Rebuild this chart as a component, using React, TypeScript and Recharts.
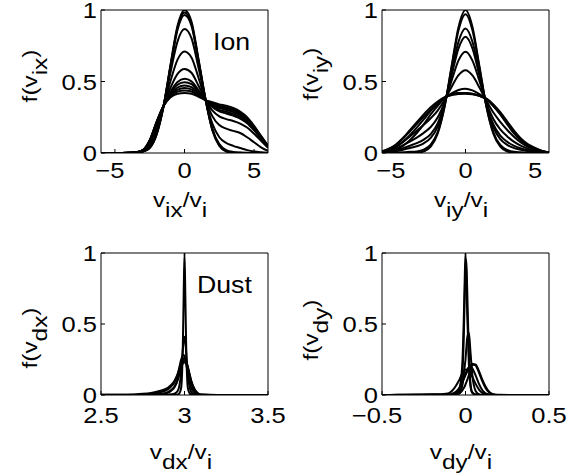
import React from "react"
import { LineChart, Line, XAxis, YAxis } from "recharts"

// ion velocity grids (v / v_i)
const ionGrid = [-6, -5.5, -5, -4.5, -4, -3.5, -3, -2.5, -2, -1.5, -1, -0.5, 0, 0.5, 1, 1.5, 2, 2.5, 3, 3.5, 4, 4.5, 5, 5.5, 6]

const ionXCurves = [
	[0, 0, 0, 0, 0, 0, 0.01, 0.035, 0.13, 0.33, 0.62, 0.89, 1.0, 0.92, 0.66, 0.38, 0.16, 0.05, 0.01, 0, 0, 0, 0, 0, 0],
	[0, 0, 0, 0, 0, 0, 0.01, 0.037, 0.133, 0.33, 0.613, 0.876, 0.983, 0.905, 0.652, 0.38, 0.163, 0.055, 0.015, 0.004, 0.001, 0, 0, 0, 0],
	[0, 0, 0, 0, 0, 0, 0.011, 0.038, 0.135, 0.33, 0.606, 0.862, 0.965, 0.89, 0.644, 0.379, 0.17, 0.062, 0.02, 0.007, 0.003, 0.001, 0, 0, 0],
	[0, 0, 0, 0, 0, 0.001, 0.012, 0.048, 0.151, 0.33, 0.567, 0.781, 0.867, 0.804, 0.599, 0.378, 0.205, 0.11, 0.07, 0.05, 0.035, 0.02, 0.01, 0.005, 0.002],
	[0, 0, 0, 0, 0, 0.003, 0.015, 0.063, 0.175, 0.33, 0.505, 0.653, 0.71, 0.668, 0.528, 0.375, 0.258, 0.195, 0.17, 0.155, 0.14, 0.11, 0.075, 0.04, 0.015],
	[0, 0, 0, 0, 0.001, 0.004, 0.017, 0.074, 0.194, 0.33, 0.457, 0.553, 0.588, 0.561, 0.472, 0.373, 0.298, 0.256, 0.237, 0.224, 0.206, 0.178, 0.135, 0.085, 0.036],
	[0, 0, 0, 0, 0.001, 0.004, 0.018, 0.081, 0.205, 0.33, 0.429, 0.496, 0.519, 0.501, 0.44, 0.372, 0.322, 0.291, 0.276, 0.261, 0.241, 0.208, 0.158, 0.1, 0.042],
	[0, 0, 0, 0, 0.001, 0.004, 0.019, 0.083, 0.208, 0.33, 0.42, 0.477, 0.495, 0.481, 0.429, 0.371, 0.33, 0.302, 0.288, 0.274, 0.252, 0.218, 0.165, 0.104, 0.044],
	[0, 0, 0, 0, 0.001, 0.005, 0.019, 0.085, 0.212, 0.33, 0.411, 0.458, 0.472, 0.46, 0.419, 0.371, 0.337, 0.314, 0.301, 0.287, 0.264, 0.228, 0.173, 0.109, 0.046],
	[0, 0, 0, 0, 0.001, 0.005, 0.019, 0.087, 0.215, 0.33, 0.404, 0.443, 0.455, 0.445, 0.411, 0.371, 0.343, 0.323, 0.311, 0.296, 0.273, 0.235, 0.179, 0.113, 0.047],
	[0, 0, 0, 0, 0.001, 0.005, 0.02, 0.088, 0.217, 0.33, 0.397, 0.429, 0.437, 0.43, 0.403, 0.37, 0.349, 0.331, 0.32, 0.306, 0.281, 0.243, 0.184, 0.116, 0.049],
	[0, 0, 0, 0, 0.001, 0.005, 0.02, 0.09, 0.22, 0.33, 0.39, 0.415, 0.42, 0.415, 0.395, 0.37, 0.355, 0.34, 0.33, 0.315, 0.29, 0.25, 0.19, 0.12, 0.05],
]

const ionYCurves = [
	[0, 0, 0, 0, 0, 0, 0.011, 0.044, 0.135, 0.325, 0.607, 0.882, 1.0, 0.882, 0.607, 0.325, 0.135, 0.044, 0.011, 0, 0, 0, 0, 0, 0],
	[0.001, 0.002, 0.003, 0.005, 0.008, 0.011, 0.024, 0.058, 0.146, 0.328, 0.597, 0.859, 0.971, 0.858, 0.597, 0.328, 0.145, 0.056, 0.021, 0.008, 0.005, 0.003, 0.002, 0.001, 0],
	[0.003, 0.007, 0.013, 0.023, 0.035, 0.047, 0.068, 0.105, 0.185, 0.339, 0.563, 0.779, 0.871, 0.778, 0.561, 0.337, 0.18, 0.097, 0.057, 0.034, 0.022, 0.013, 0.008, 0.003, 0.001],
	[0.004, 0.01, 0.019, 0.034, 0.051, 0.069, 0.094, 0.132, 0.207, 0.346, 0.542, 0.732, 0.813, 0.731, 0.541, 0.343, 0.201, 0.121, 0.078, 0.05, 0.032, 0.019, 0.011, 0.005, 0.002],
	[0.006, 0.015, 0.03, 0.053, 0.08, 0.108, 0.141, 0.182, 0.248, 0.358, 0.506, 0.648, 0.708, 0.646, 0.504, 0.353, 0.238, 0.165, 0.116, 0.078, 0.05, 0.03, 0.018, 0.008, 0.003],
	[0.009, 0.022, 0.043, 0.076, 0.115, 0.155, 0.197, 0.243, 0.297, 0.372, 0.462, 0.544, 0.579, 0.542, 0.458, 0.365, 0.283, 0.218, 0.161, 0.112, 0.072, 0.043, 0.025, 0.011, 0.004],
	[0.011, 0.028, 0.056, 0.099, 0.15, 0.202, 0.254, 0.303, 0.346, 0.386, 0.417, 0.441, 0.45, 0.438, 0.412, 0.377, 0.328, 0.271, 0.207, 0.146, 0.094, 0.056, 0.033, 0.014, 0.005],
	[0.004, 0.01, 0.025, 0.05, 0.09, 0.14, 0.2, 0.27, 0.33, 0.385, 0.41, 0.42, 0.42, 0.415, 0.4, 0.375, 0.33, 0.27, 0.2, 0.135, 0.085, 0.05, 0.025, 0.01, 0.003],
	[0.008, 0.02, 0.042, 0.078, 0.125, 0.178, 0.235, 0.295, 0.345, 0.387, 0.408, 0.416, 0.418, 0.412, 0.4, 0.378, 0.335, 0.278, 0.21, 0.145, 0.092, 0.055, 0.03, 0.012, 0.004],
	[0.012, 0.03, 0.06, 0.105, 0.16, 0.215, 0.27, 0.32, 0.36, 0.39, 0.405, 0.413, 0.415, 0.41, 0.4, 0.38, 0.34, 0.285, 0.22, 0.155, 0.1, 0.06, 0.035, 0.015, 0.005],
]

// dust grids
const dustXGrid = [2.5, 2.6, 2.7, 2.75, 2.8, 2.85, 2.9, 2.92, 2.94, 2.96, 2.97, 2.98, 2.99, 2.995, 3.0, 3.005, 3.01, 3.02, 3.03, 3.04, 3.06, 3.08, 3.1, 3.2, 3.3, 3.4, 3.5]

const dustXCurves = [
	[0, 0, 0, 0, 0, 0, 0, 0, 0, 0.003, 0.012, 0.05, 0.35, 0.7, 1.0, 0.7, 0.35, 0.05, 0.012, 0.003, 0, 0, 0, 0, 0, 0, 0],
	[0, 0, 0, 0, 0, 0, 0.002, 0.005, 0.01, 0.03, 0.07, 0.16, 0.32, 0.38, 0.41, 0.38, 0.3, 0.14, 0.06, 0.02, 0.003, 0, 0, 0, 0, 0, 0],
	[0.001, 0.001, 0.002, 0.003, 0.008, 0.018, 0.04, 0.06, 0.09, 0.15, 0.2, 0.25, 0.28, 0.282, 0.275, 0.255, 0.22, 0.15, 0.09, 0.05, 0.015, 0.004, 0.001, 0, 0, 0, 0],
	[0, 0, 0, 0, 0.002, 0.006, 0.02, 0.035, 0.06, 0.11, 0.15, 0.19, 0.225, 0.238, 0.245, 0.245, 0.24, 0.2, 0.15, 0.1, 0.04, 0.012, 0.003, 0, 0, 0, 0],
	[0.001, 0.001, 0.004, 0.008, 0.015, 0.028, 0.05, 0.07, 0.1, 0.15, 0.18, 0.205, 0.225, 0.229, 0.23, 0.226, 0.22, 0.19, 0.145, 0.1, 0.04, 0.012, 0.002, 0, 0, 0, 0],
	[0, 0, 0, 0, 0, 0.004, 0.015, 0.03, 0.055, 0.11, 0.16, 0.21, 0.25, 0.258, 0.26, 0.252, 0.24, 0.19, 0.13, 0.08, 0.025, 0.005, 0, 0, 0, 0, 0],
]

const dustYGrid = [-0.5, -0.4, -0.3, -0.2, -0.15, -0.12, -0.1, -0.08, -0.06, -0.04, -0.02, -0.01, -0.005, 0, 0.005, 0.01, 0.02, 0.03, 0.04, 0.06, 0.08, 0.1, 0.12, 0.14, 0.16, 0.18, 0.2, 0.3, 0.4, 0.5]

const dustYCurves = [
	[0, 0, 0, 0, 0, 0, 0, 0, 0.003, 0.03, 0.2, 0.55, 0.8, 1.0, 0.82, 0.58, 0.22, 0.06, 0.015, 0.002, 0, 0, 0, 0, 0, 0, 0, 0, 0, 0],
	[0, 0, 0, 0, 0, 0, 0, 0, 0.002, 0.02, 0.14, 0.42, 0.68, 0.9, 0.95, 0.75, 0.3, 0.08, 0.02, 0.003, 0, 0, 0, 0, 0, 0, 0, 0, 0, 0],
	[0, 0.001, 0.002, 0.003, 0.003, 0.004, 0.005, 0.01, 0.02, 0.045, 0.09, 0.115, 0.128, 0.14, 0.152, 0.165, 0.19, 0.21, 0.22, 0.21, 0.16, 0.1, 0.05, 0.02, 0.006, 0.002, 0.001, 0, 0, 0],
	[0, 0, 0, 0, 0, 0, 0, 0.002, 0.01, 0.03, 0.08, 0.115, 0.133, 0.15, 0.165, 0.178, 0.195, 0.2, 0.19, 0.14, 0.08, 0.035, 0.012, 0.003, 0, 0, 0, 0, 0, 0],
	[0, 0.001, 0.003, 0.005, 0.006, 0.008, 0.012, 0.03, 0.06, 0.1, 0.15, 0.168, 0.175, 0.18, 0.178, 0.175, 0.17, 0.155, 0.13, 0.08, 0.04, 0.015, 0.005, 0.002, 0.001, 0, 0, 0, 0, 0],
	[0, 0, 0, 0, 0, 0, 0, 0, 0.002, 0.01, 0.06, 0.15, 0.2, 0.25, 0.33, 0.4, 0.44, 0.3, 0.15, 0.03, 0.005, 0, 0, 0, 0, 0, 0, 0, 0, 0],
	[0, 0, 0, 0, 0, 0, 0, 0, 0.003, 0.01, 0.03, 0.05, 0.06, 0.075, 0.09, 0.105, 0.14, 0.18, 0.21, 0.215, 0.17, 0.11, 0.06, 0.025, 0.008, 0.002, 0, 0, 0, 0],
]

const ionTicks = [-5, 0, 5]
const dustXTicks = [2.5, 3, 3.5]
const dustYTicks = [-0.5, 0, 0.5]
const fTicks = [0, 0.5, 1]

const FONT = "'Liberation Sans', Arial, Helvetica, sans-serif"
const SX = 1.16
const TICK_SIZE = 22

const fmt = (v: number) => {
	const s = String(Math.abs(v))
	return v < 0 ? "\u2212" + s : s
}

const toRows = (grid: number[], series: number[][]) =>
	grid.map((x, i) => {
		const r: Record<string, number> = { x }
		series.forEach((s, k) => {
			r["s" + k] = s[i]
		})
		return r
	})

const YTick = (props: any) => {
	const { x, y, payload } = props
	return (
		<g transform={`translate(${x},${y})`}>
			<text transform={`scale(${SX},1)`} textAnchor="end" dy={8} fontSize={TICK_SIZE} fontFamily={FONT} fill="#000">
				{fmt(payload.value)}
			</text>
		</g>
	)
}

const XTick = (props: any) => {
	const { x, y, payload, dy } = props
	const shift = payload.value < 0 ? -5 : 0
	return (
		<g transform={`translate(${x + shift},${y + dy})`}>
			<text transform={`scale(${SX},1)`} textAnchor="middle" fontSize={TICK_SIZE} fontFamily={FONT} fill="#000">
				{fmt(payload.value)}
			</text>
		</g>
	)
}

interface PanelProps {
	left: number
	top: number
	grid: number[]
	series: number[][]
	domain: [number, number]
	xTicks: number[]
	tickDy: number
	bottom: number
}

// each panel is drawn 10px higher than its plot box so the top tick label has room
const Panel: React.FC<PanelProps> = ({ left, top, grid, series, domain, xTicks, tickDy, bottom }) => {
	const rows = toRows(grid, series)
	return (
		<div style={{ position: "absolute", left, top: top - 10 }}>
			<LineChart width={300} height={240} data={rows} margin={{ top: 19, right: 31, bottom, left: 51 }}>
				<XAxis
					xAxisId="b"
					dataKey="x"
					type="number"
					domain={domain}
					ticks={xTicks}
					allowDataOverflow
					height={40}
					tickSize={-4}
					tickMargin={4}
					stroke="#000"
					tick={(p: any) => <XTick {...p} dy={tickDy} />}
				/>
				<XAxis
					xAxisId="t"
					orientation="top"
					dataKey="x"
					type="number"
					domain={domain}
					ticks={xTicks}
					allowDataOverflow
					height={1}
					tickSize={-4}
					stroke="#000"
					tick={false}
				/>
				<YAxis
					yAxisId="l"
					type="number"
					domain={[0, 1]}
					ticks={fTicks}
					allowDataOverflow
					width={50}
					tickSize={-4}
					tickMargin={8}
					stroke="#000"
					tick={YTick}
				/>
				<YAxis
					yAxisId="r"
					orientation="right"
					type="number"
					domain={[0, 1]}
					ticks={fTicks}
					allowDataOverflow
					width={1}
					tickSize={-4}
					stroke="#000"
					tick={false}
				/>
				{series.map((_, k) => (
					<Line
						key={k}
						xAxisId="b"
						yAxisId="l"
						dataKey={"s" + k}
						type="monotone"
						stroke="#000"
						strokeWidth={2}
						dot={false}
						isAnimationActive={false}
					/>
				))}
			</LineChart>
		</div>
	)
}

// text with subscripts: parts are [text, isSubscript]
const Title = ({ x, y, parts, rot }: { x: number; y: number; parts: [string, boolean][]; rot?: boolean }) => {
	let level = 0
	const spans = parts.map(([t, sub], i) => {
		const target = sub ? 10 : 0
		const dy = target - level
		level = target
		return (
			<tspan key={i} dy={dy}>
				{t}
			</tspan>
		)
	})
	return (
		<text
			transform={`translate(${x},${y})${rot ? " rotate(-90)" : ""} scale(${SX},1)`}
			textAnchor="middle"
			fontSize={21}
			fontFamily={FONT}
			fill="#000">
			{spans}
		</text>
	)
}

const App = () => {
	return (
		<div style={{ position: "absolute", left: 0, top: 0, width: 567, height: 473, background: "#fff", overflow: "hidden" }}>
			<Panel left={0} top={0} grid={ionGrid} series={ionXCurves} domain={[-6, 6]} xTicks={ionTicks} tickDy={25} bottom={37} />
			<Panel left={281} top={0} grid={ionGrid} series={ionYCurves} domain={[-6, 6]} xTicks={ionTicks} tickDy={25} bottom={37} />
			<Panel left={0} top={243} grid={dustXGrid} series={dustXCurves} domain={[2.5, 3.5]} xTicks={dustXTicks} tickDy={28} bottom={38} />
			<Panel left={281} top={243} grid={dustYGrid} series={dustYCurves} domain={[-0.5, 0.5]} xTicks={dustYTicks} tickDy={28} bottom={38} />
			<svg width={567} height={473} style={{ position: "absolute", left: 0, top: 0, pointerEvents: "none" }}>
				<Title x={37} y={76} rot parts={[["f(v", false], ["ix", true], [")", false]]} />
				<Title x={318} y={74} rot parts={[["f(v", false], ["iy", true], [")", false]]} />
				<Title x={37} y={338} rot parts={[["f(v", false], ["dx", true], [")", false]]} />
				<Title x={318} y={330} rot parts={[["f(v", false], ["dy", true], [")", false]]} />
				<Title x={180} y={207} parts={[["v", false], ["ix", true], ["/v", false], ["i", true]]} />
				<Title x={461} y={207} parts={[["v", false], ["iy", true], ["/v", false], ["i", true]]} />
				<Title x={181} y={459} parts={[["v", false], ["dx", true], ["/v", false], ["i", true]]} />
				<Title x={461} y={459} parts={[["v", false], ["dy", true], ["/v", false], ["i", true]]} />
				<g transform="translate(213,50) scale(1.16,1)">
					<text fontSize={23} fontFamily={FONT} fill="#000">
						Ion
					</text>
				</g>
				<g transform="translate(197,293) scale(1.16,1)">
					<text fontSize={23} fontFamily={FONT} fill="#000">
						Dust
					</text>
				</g>
			</svg>
		</div>
	)
}

export default App
